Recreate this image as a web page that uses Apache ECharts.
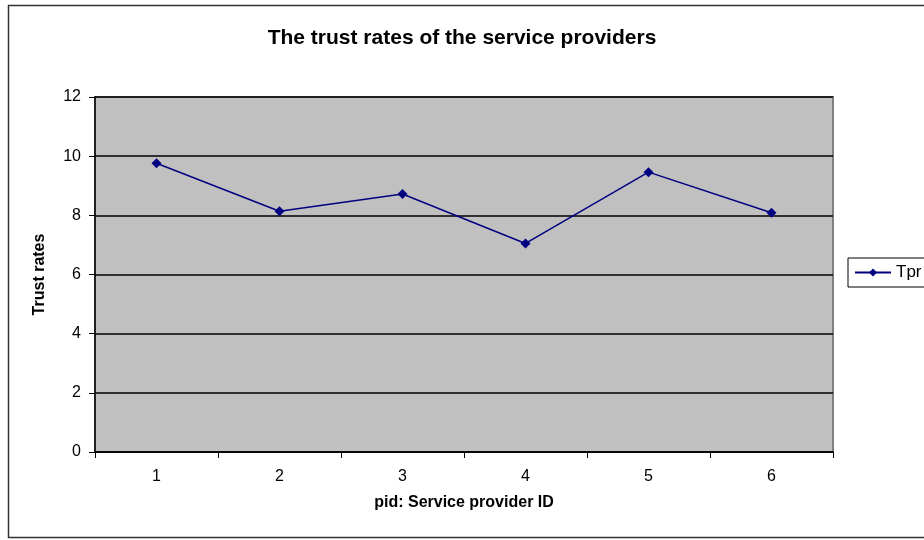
<!DOCTYPE html>
<html><head><meta charset="utf-8">
<script src="https://cdn.jsdelivr.net/npm/echarts@6/dist/echarts.min.js"></script>
<style>html,body{margin:0;padding:0;background:#fff}#c{width:924px;height:540px}</style>
</head><body><div id="c"></div>
<script>
const categories = ['1','2','3','4','5','6'];
const tprValues = [9.76, 8.14, 8.72, 7.05, 9.46, 8.09];
const seriesName = 'Tpr';

const chart = echarts.init(document.getElementById('c'), null, {renderer:'canvas'});
chart.setOption({
  animation:false,
  backgroundColor:'#fff',
  graphic:[{type:'rect', shape:{x:8.5,y:5.5,width:960,height:532}, style:{fill:'none', stroke:'#333', lineWidth:1.5}, z:-1}],
  title:{text:'The trust rates of the service providers', left:'center', top:23,
    textStyle:{fontFamily:'Arial, Liberation Sans', fontWeight:'bold', fontSize:21, color:'#000'}},
  legend:{data:[{name:seriesName}], left:848, top:258, orient:'vertical',
    itemWidth:36, itemHeight:10, itemGap:0,
    padding:[6,60,6,6], borderColor:'#000', borderWidth:1, backgroundColor:'#fff',
    textStyle:{fontFamily:'Arial, Liberation Sans', fontSize:17, color:'#000'}},
  grid:{left:95, right:91, top:97, bottom:88, show:true, backgroundColor:'#c0c0c0', borderColor:'#808080', borderWidth:2},
  xAxis:{type:'category', data:categories, boundaryGap:true,
    name:'pid: Service provider ID', nameLocation:'middle', nameGap:43,
    nameTextStyle:{fontFamily:'Arial, Liberation Sans', fontWeight:'bold', fontSize:16, color:'#000'},
    axisLine:{lineStyle:{color:'#000', width:1.5}},
    axisTick:{show:true, alignWithLabel:false, length:6, lineStyle:{color:'#000'}},
    axisLabel:{fontFamily:'Arial, Liberation Sans', fontSize:16, color:'#000', margin:17}},
  yAxis:{type:'value', min:0, max:12, interval:2,
    name:'Trust rates', nameLocation:'middle', nameGap:47, nameRotate:90,
    nameTextStyle:{fontFamily:'Arial, Liberation Sans', fontWeight:'bold', fontSize:16, color:'#000'},
    axisLine:{show:true, lineStyle:{color:'#000', width:1.5}},
    axisTick:{show:true, length:6, lineStyle:{color:'#000'}},
    splitLine:{show:true, lineStyle:{color:'#000', width:1.5}},
    axisLabel:{fontFamily:'Arial, Liberation Sans', fontSize:16, color:'#000', margin:14}},
  series:[{name:seriesName, type:'line', data:tprValues,
    symbol:'diamond', symbolSize:10,
    lineStyle:{color:'#000080', width:1.5},
    itemStyle:{color:'#000080'}}]
});
</script></body></html>
